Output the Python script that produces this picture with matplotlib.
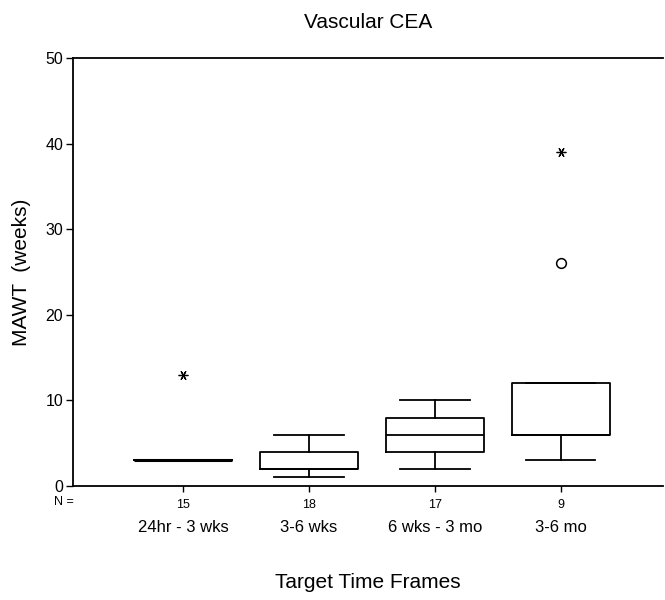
import matplotlib
matplotlib.use('Agg')
import matplotlib.pyplot as plt
import matplotlib.transforms as mtransforms

plt.rcParams['font.family'] = ['Liberation Sans', 'DejaVu Sans']

# box summary per time frame (weeks)
categorias = ['24hr - 3 wks', '3-6 wks', '6 wks - 3 mo', '3-6 mo']
n_casos = [15, 18, 17, 9]
whis_baixo = [3, 1, 2, 3]
q1 = [3, 2, 4, 6]
mediana = [3, 2, 6, 6]
q3 = [3, 4, 8, 12]
whis_alto = [3, 6, 10, 12]
outliers = [[], [], [], [26]]     # circles
extremos = [[13], [], [], [39]]   # asterisks


def montar_stats():
    stats = []
    for i in range(len(categorias)):
        stats.append({
            'whislo': whis_baixo[i], 'q1': q1[i], 'med': mediana[i],
            'q3': q3[i], 'whishi': whis_alto[i], 'fliers': outliers[i],
        })
    return stats


def main():
    fig = plt.figure(figsize=(6.65, 6.0), dpi=100)
    ax = fig.add_axes([0.1098, 0.19, 0.887, 0.7133])

    pos = list(range(1, len(categorias) + 1))
    linha = dict(color='black', linewidth=1.3)
    ax.bxp(montar_stats(), positions=pos, widths=0.78, capwidths=0.55,
           boxprops=linha, whiskerprops=linha, capprops=linha,
           medianprops=linha,
           flierprops=dict(marker='o', markersize=7, markerfacecolor='none',
                           markeredgecolor='black', markeredgewidth=1.1),
           manage_ticks=False)

    # degenerate box drawn as a single thick line
    for i, p in enumerate(pos):
        if q1[i] == q3[i]:
            ax.plot([p - 0.39, p + 0.39], [mediana[i], mediana[i]],
                    color='black', linewidth=2.2, solid_capstyle='butt')
        for v in extremos[i]:
            ax.plot(p, v, marker=(6, 2, 90), markersize=7, color='black',
                    markeredgewidth=0.9, linestyle='none')

    ax.set_xlim(0.127, 4.81)
    ax.set_ylim(0, 50)
    ax.set_yticks([0, 10, 20, 30, 40, 50])
    ax.set_xticks(pos)
    ax.set_xticklabels([str(n) for n in n_casos], fontsize=9)
    ax.tick_params(axis='y', direction='out', length=5, width=1.0,
                   labelsize=11.5, pad=2)
    ax.tick_params(axis='x', direction='out', length=4, width=1.0, pad=5)

    ax.spines['right'].set_visible(False)
    for s in ('left', 'bottom', 'top'):
        ax.spines[s].set_linewidth(1.3)

    trans = mtransforms.blended_transform_factory(ax.transData, fig.transFigure)
    for p, nome in zip(pos, categorias):
        ax.text(p, 1 - 528 / 600, nome, transform=trans, ha='center',
                va='center', fontsize=12)
    fig.text(64 / 665, 1 - 502 / 600, 'N =', ha='center', va='center',
             fontsize=9)

    fig.text(368 / 665, 1 - 22 / 600, 'Vascular CEA', ha='center',
             va='center', fontsize=15)
    fig.text(368 / 665, 1 - 583 / 600, 'Target Time Frames', ha='center',
             va='center', fontsize=15)
    fig.text(22 / 665, 1 - 272 / 600, 'MAWT  (weeks)', ha='center',
             va='center', rotation=90, fontsize=15)

    fig.savefig('out.png', dpi=100)


if __name__ == "__main__":
    main()
